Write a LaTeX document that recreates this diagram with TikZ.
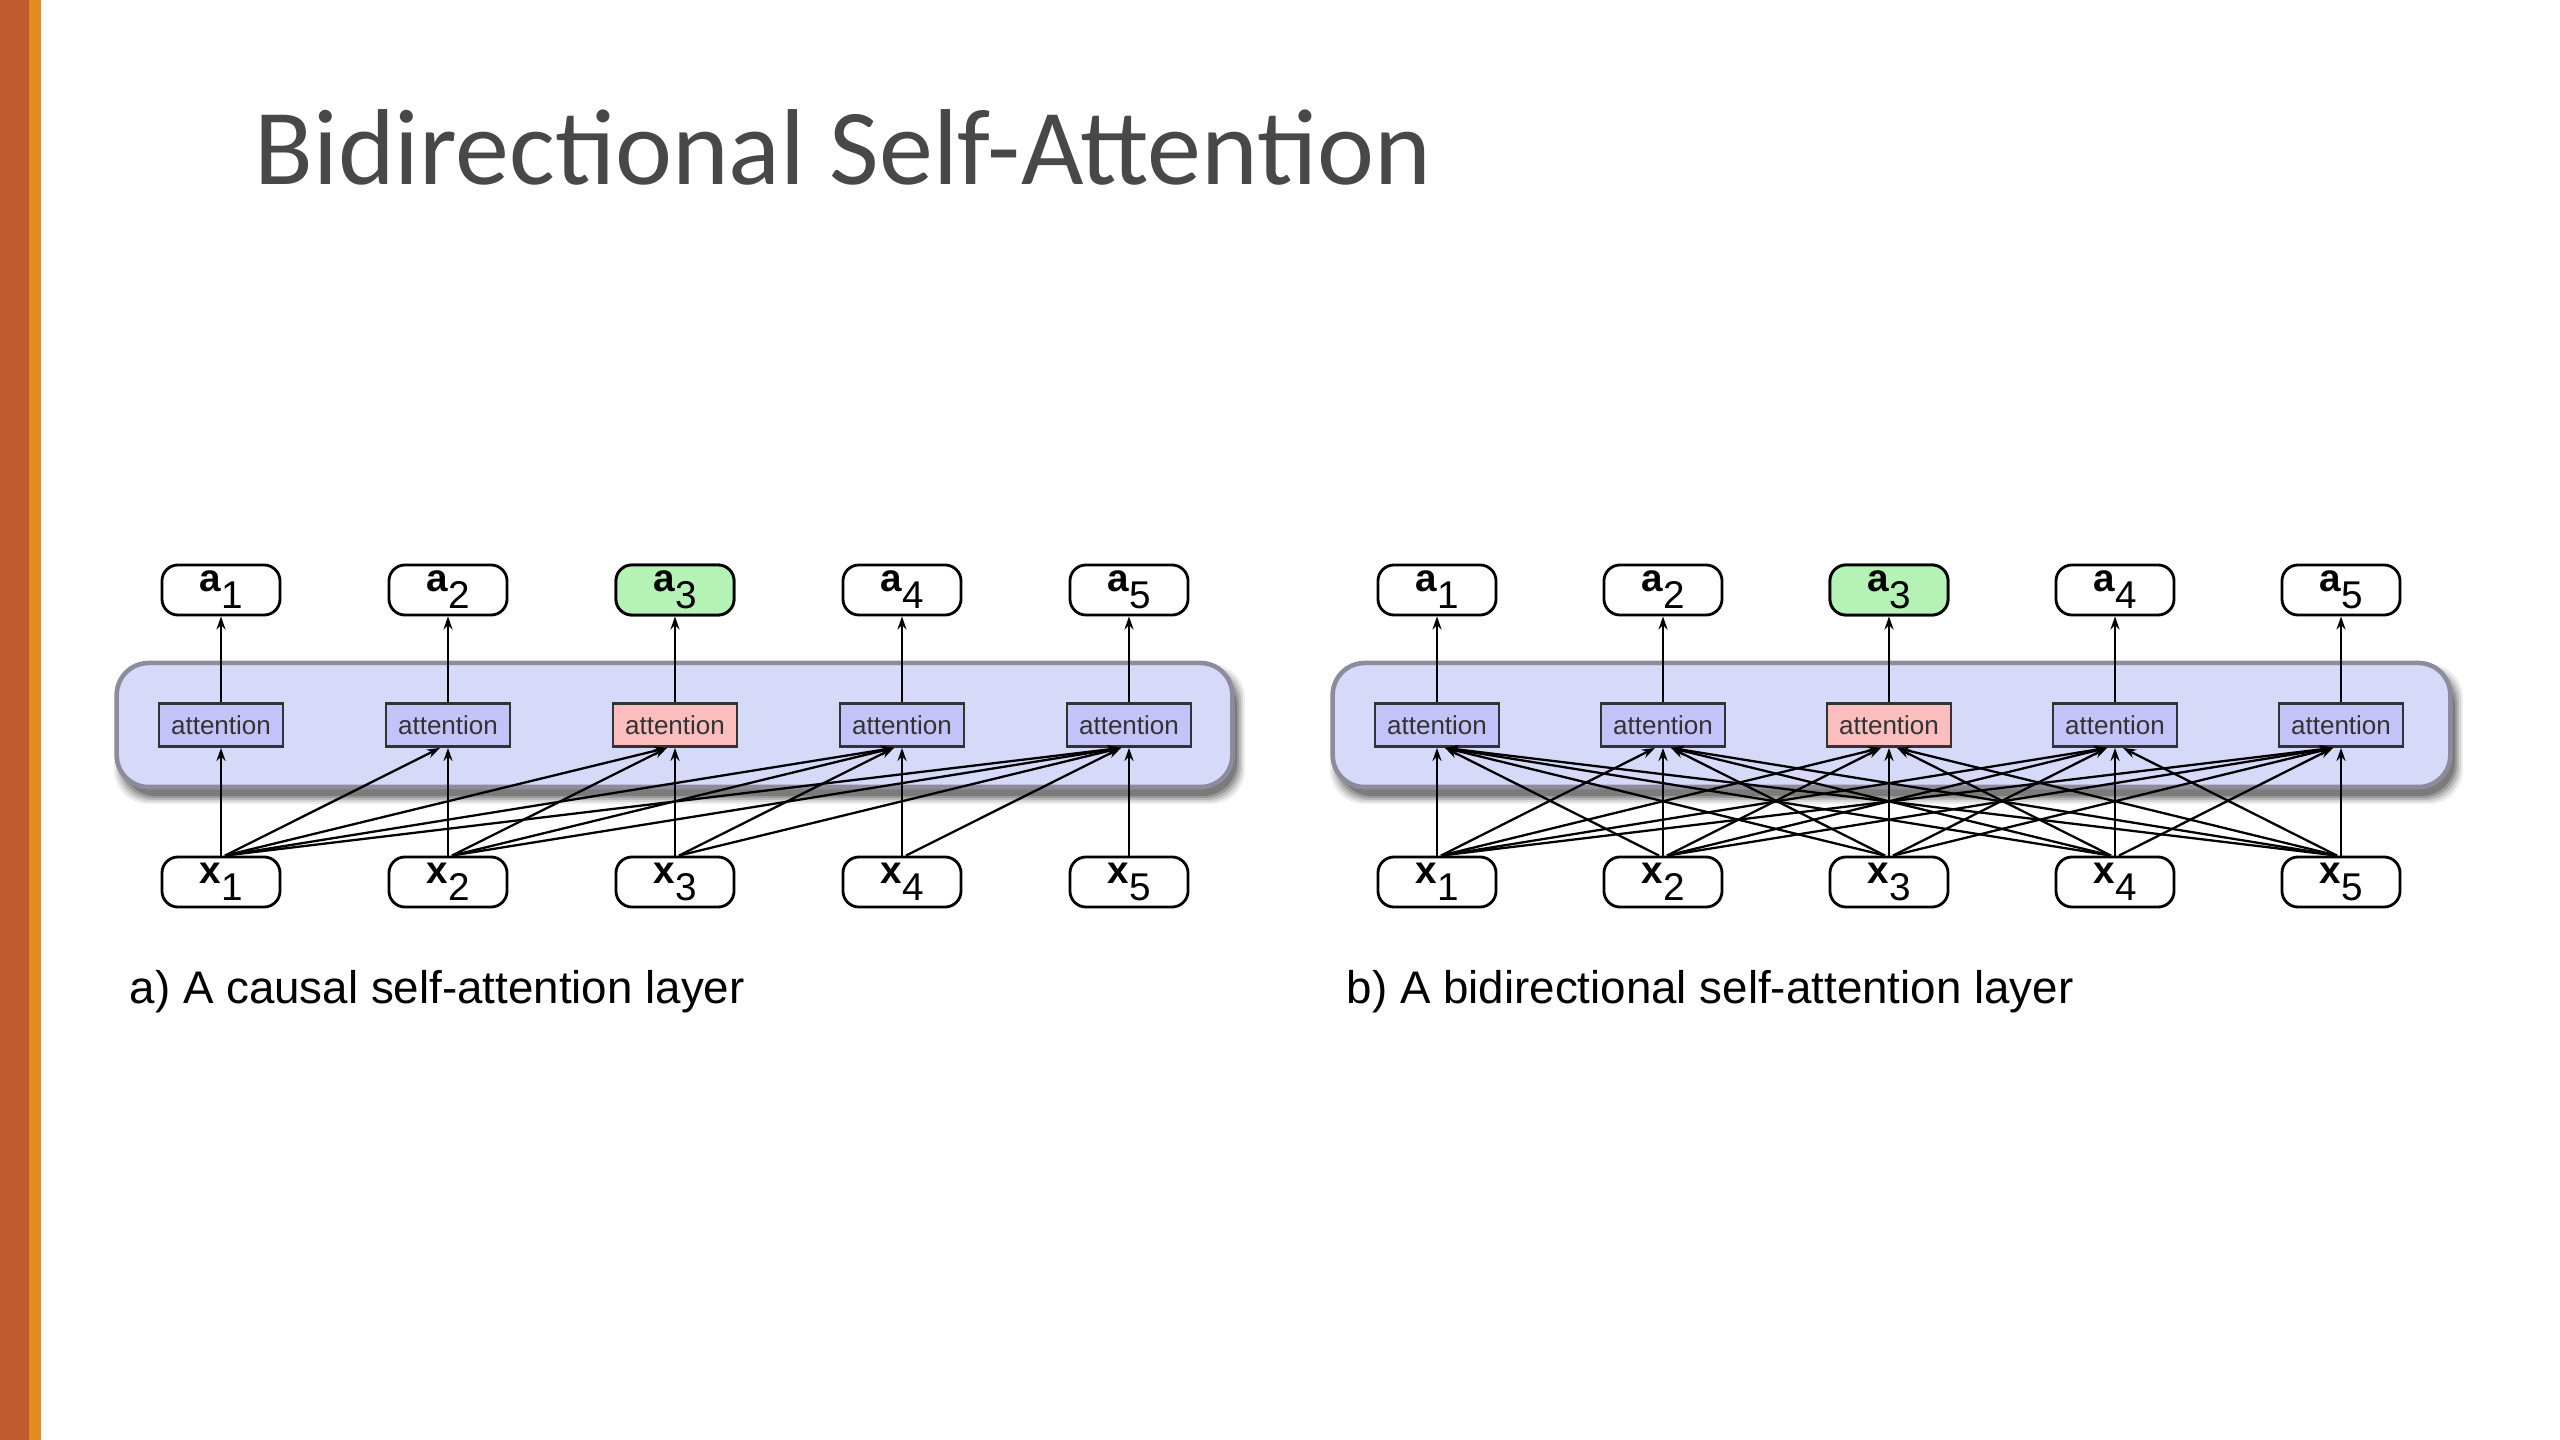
\documentclass[tikz,border=0pt]{standalone}
\usepackage{fontspec}
\setmainfont{Liberation Sans}
\newfontfamily\titlefont{Carlito}
\usetikzlibrary{arrows.meta,calc}
\definecolor{rust}{HTML}{BE5A2E}
\definecolor{orng}{HTML}{E38B1E}
\definecolor{layerfill}{HTML}{D6D9F7}
\definecolor{layerdraw}{HTML}{8C8C9C}
\definecolor{attfill}{HTML}{C3C3FA}
\definecolor{attred}{HTML}{FBBDBD}
\definecolor{outgreen}{HTML}{B5F2B5}
\definecolor{titlegray}{HTML}{484848}
\newcommand\vsublabel[2]{{\fontsize{11}{12}\selectfont\bfseries #1}\raisebox{-0.17cm}{\fontsize{11}{12}\selectfont #2}}
\tikzset{
  iobox/.style={draw=black, line width=0.8pt, rounded corners=0.16cm, minimum width=1.18cm, minimum height=0.5cm, inner sep=0pt, fill=white},
  attbox/.style={draw=black!80, line width=0.8pt, fill=attfill, minimum width=1.24cm, minimum height=0.43cm, inner sep=0pt, font=\fontsize{7.4}{8}\selectfont, text=black!80},
  layerbox/.style={draw=layerdraw, line width=1.3pt, fill=layerfill, rounded corners=0.32cm, inner sep=0pt},
  conn/.style={-{Stealth[length=0.13cm,width=0.09cm]}, line width=0.65pt},
  captiontext/.style={anchor=base west, inner sep=0pt, font=\fontsize{13}{15}\selectfont},
}
\begin{document}
\begin{tikzpicture}[x=0.01cm,y=-0.01cm]
\useasboundingbox (0,0) rectangle (2560,1440);
% side bar
\fill[rust] (0,0) rectangle (29,1440);
\fill[orng] (29,0) rectangle (41,1440);
% title
\node[anchor=base west, inner sep=0pt, text=titlegray, font=\titlefont\fontsize{30.7}{36}\selectfont] (title) at (254,185) {Bidirectional Self-Attention};

% layer shadows and layers
\foreach \ox/\w in {117/1115,1333/1117}{
  \foreach \d/\o in {8/0.07,6/0.1,4/0.13,2/0.17,0/0.2}{
    \fill[black, opacity=\o, rounded corners=0.34cm] ({\ox+5-\d},{663+9-\d}) rectangle ({\ox+\w+5+\d},{787+9+\d});
  }
}
\node[layerbox, minimum width=11.15cm, minimum height=1.24cm] (layerA) at (674.5,725) {};
\node[layerbox, minimum width=11.17cm, minimum height=1.24cm] (layerB) at (1891.5,725) {};

% diagram A nodes
\foreach \i in {1,...,5}{
  \pgfmathsetmacro{\px}{221+227*(\i-1)}
  \node[iobox] (aA\i) at (\px,590) {\vsublabel{a}{\i}};
  \node[attbox] (attA\i) at (\px,725) {attention};
  \node[iobox] (xA\i) at (\px,882) {\vsublabel{x}{\i}};
}
% diagram B nodes
\foreach \i in {1,...,5}{
  \pgfmathsetmacro{\px}{1437+226*(\i-1)}
  \node[iobox] (aB\i) at (\px,590) {\vsublabel{a}{\i}};
  \node[attbox] (attB\i) at (\px,725) {attention};
  \node[iobox] (xB\i) at (\px,882) {\vsublabel{x}{\i}};
}
% highlighted nodes
\node[iobox, fill=outgreen] at (aA3) {\vsublabel{a}{3}};
\node[attbox, fill=attred] at (attA3) {attention};
\node[iobox, fill=outgreen] at (aB3) {\vsublabel{a}{3}};
\node[attbox, fill=attred] at (attB3) {attention};

% vertical connectors
\foreach \i in {1,...,5}{
  \draw[conn] (xA\i.north) -- (attA\i.south);
  \draw[conn] (attA\i.north) -- (aA\i.south);
  \draw[conn] (xB\i.north) -- (attB\i.south);
  \draw[conn] (attB\i.north) -- (aB\i.south);
}
% causal connectors
\foreach \j in {2,...,5}{
  \foreach \i in {1,...,5}{
    \ifnum\i<\j
      \draw[conn] ([xshift=0.04cm]xA\i.north) -- ([xshift=-0.08cm]attA\j.south);
    \fi
  }
}
% bidirectional connectors
\foreach \j in {1,...,5}{
  \foreach \i in {1,...,5}{
    \ifnum\i<\j
      \draw[conn] ([xshift=0.04cm]xB\i.north) -- ([xshift=-0.08cm]attB\j.south);
    \fi
    \ifnum\i>\j
      \draw[conn] ([xshift=-0.04cm]xB\i.north) -- ([xshift=0.08cm]attB\j.south);
    \fi
  }
}

% captions
\node[captiontext] (capA) at (129,1003) {a) A causal self-attention layer};
\node[captiontext] (capB) at (1346,1003) {b) A bidirectional self-attention layer};
\end{tikzpicture}
\end{document}
